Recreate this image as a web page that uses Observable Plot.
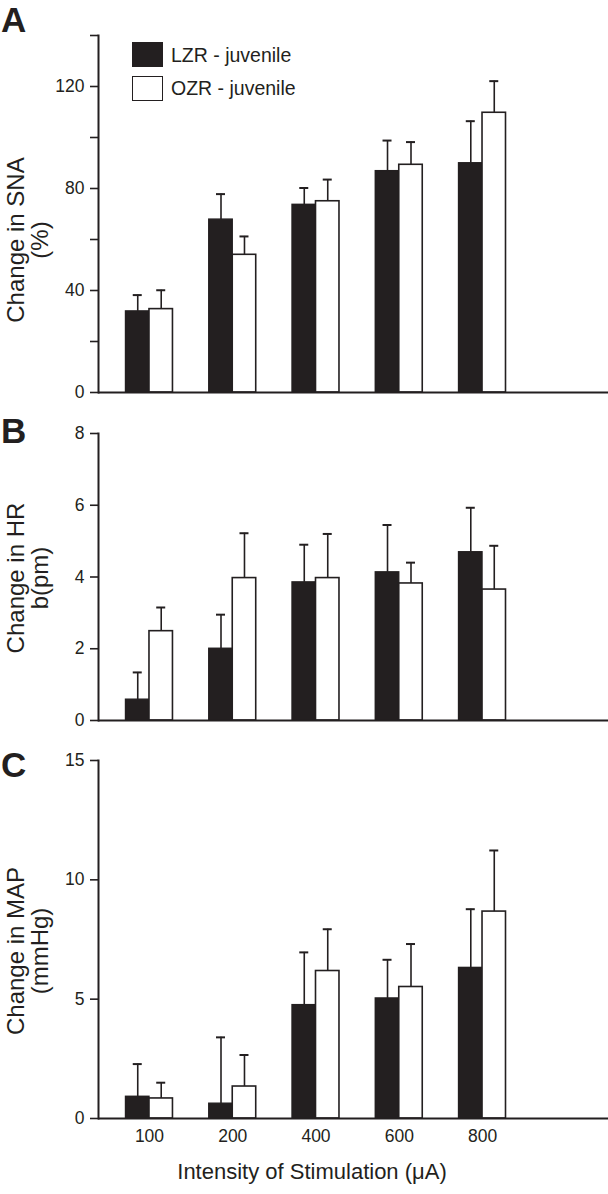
<!DOCTYPE html>
<html><head><meta charset="utf-8">
<script src="https://cdn.jsdelivr.net/npm/d3@7"></script>
<script src="https://cdn.jsdelivr.net/npm/@observablehq/plot@0.6"></script>
<style>
body{margin:0;background:#fff;}
#wrap{position:relative;width:608px;height:1194px;overflow:hidden;font-family:"Liberation Sans",Arial,Helvetica,sans-serif;color:#231f20;}
.panel{position:absolute;left:0;}
.letter{position:absolute;left:1px;font-weight:bold;font-size:35px;line-height:40px;}
.ytitle{position:absolute;font-size:24px;line-height:24px;text-align:center;white-space:nowrap;transform:translate(-50%,-50%) rotate(-90deg);}
.xtitle{position:absolute;font-size:22px;white-space:nowrap;transform:translate(-50%,-50%);}
.sw{position:absolute;width:31px;height:25px;box-sizing:border-box;border:1.6px solid #231f20;}
.lt{position:absolute;font-size:19.5px;white-space:nowrap;transform:translateY(-50%);}
</style></head><body><div id="wrap"></div>
<script>
// ---- data ----
const doses = ["100", "200", "400", "600", "800"];
const groups = ["LZR - juvenile", "OZR - juvenile"];

const snaLZR    = [31.8, 67.8, 73.6, 86.8, 89.9];
const snaLZRerr = [6.4, 10.0, 6.6, 12.0, 16.5];
const snaOZR    = [32.7, 54.0, 75.0, 89.3, 109.7];
const snaOZRerr = [7.4, 7.2, 8.5, 8.9, 12.4];

const hrLZR    = [0.58, 2.0, 3.85, 4.13, 4.69];
const hrLZRerr = [0.76, 0.95, 1.05, 1.32, 1.24];
const hrOZR    = [2.49, 3.97, 3.97, 3.82, 3.65];
const hrOZRerr = [0.66, 1.25, 1.23, 0.58, 1.22];

const mapLZR    = [0.91, 0.62, 4.75, 5.03, 6.31];
const mapLZRerr = [1.37, 2.78, 2.21, 1.62, 2.46];
const mapOZR    = [0.84, 1.34, 6.18, 5.51, 8.67];
const mapOZRerr = [0.66, 1.32, 1.75, 1.80, 2.56];

const snaTicks = [0, 20, 40, 60, 80, 100, 120, 140];
const snaTickLabels = [0, 40, 80, 120];
const hrTicks = [0, 2, 4, 6, 8];
const mapTicks = [0, 5, 10, 15];

const xTitle = "Intensity of Stimulation (\u03bcA)";

// ---- drawing ----
const ink = "#231f20";
const wrap = document.getElementById("wrap");
const rowsOf = (m, e) => doses.map((d, i) => ({dose: d, mean: m[i], err: e[i]}));

const xRange = [125.5, 505.5];
const padIn = 0.436;
const step = (xRange[1] - xRange[0]) / (doses.length - padIn);
const bw = step * (1 - padIn);
const half = bw / 2;
const capW = 9;

function panel(o) {
  const L = rowsOf(o.lzr, o.lzrE), O = rowsOf(o.ozr, o.ozrE);
  const marks = [
    Plot.barY(L, {x: "dose", y: "mean", fill: ink, stroke: ink, strokeWidth: 1.4, insetRight: half}),
    Plot.barY(O, {x: "dose", y: "mean", fill: "white", stroke: ink, strokeWidth: 1.6, insetLeft: half}),
    Plot.ruleX(L, {x: "dose", y1: "mean", y2: d => d.mean + d.err, dx: -half / 2, stroke: ink, strokeWidth: 1.6}),
    Plot.ruleX(O, {x: "dose", y1: "mean", y2: d => d.mean + d.err, dx: half / 2, stroke: ink, strokeWidth: 1.6}),
    Plot.tickY(L, {x: "dose", y: d => d.mean + d.err, dx: -half / 2, insetLeft: (bw - capW) / 2, insetRight: (bw - capW) / 2, stroke: ink, strokeWidth: 2}),
    Plot.tickY(O, {x: "dose", y: d => d.mean + d.err, dx: half / 2, insetLeft: (bw - capW) / 2, insetRight: (bw - capW) / 2, stroke: ink, strokeWidth: 2}),
    Plot.ruleY([0], {stroke: ink, strokeWidth: 2}),
    Plot.frame({anchor: "left", stroke: ink, strokeWidth: 2}),
    Plot.axisY({ticks: o.ticks, tickSize: 8, tickPadding: 6, strokeWidth: 1.6, stroke: ink, fill: ink,
      tickFormat: d => (o.labels.includes(d) ? String(d) : ""), label: null})
  ];
  if (o.showX) marks.push(Plot.axisX({tickSize: 0, tickPadding: 11, label: null, fill: ink}));
  const svg = Plot.plot({
    width: 608, height: o.height,
    marginLeft: 98, marginRight: 0, marginTop: o.marginTop, marginBottom: o.marginBottom,
    style: {fontFamily: '"Liberation Sans", Arial, Helvetica, sans-serif', fontSize: "17.5px", color: ink, background: "transparent", overflow: "visible"},
    x: {type: "band", domain: doses, range: xRange, paddingInner: padIn, paddingOuter: 0, round: false, axis: o.showX ? undefined : null},
    y: {domain: o.domain, axis: null},
    marks
  });
  svg.classList.add("panel");
  svg.style.top = o.top + "px";
  wrap.appendChild(svg);
}

panel({lzr: snaLZR, lzrE: snaLZRerr, ozr: snaOZR, ozrE: snaOZRerr, domain: [0, 140], ticks: snaTicks, labels: snaTickLabels,
  top: 0, height: 400, marginTop: 35, marginBottom: 8});
panel({lzr: hrLZR, lzrE: hrLZRerr, ozr: hrOZR, ozrE: hrOZRerr, domain: [0, 8], ticks: hrTicks, labels: hrTicks,
  top: 400, height: 340, marginTop: 33, marginBottom: 20});
panel({lzr: mapLZR, lzrE: mapLZRerr, ozr: mapOZR, ozrE: mapOZRerr, domain: [0, 15], ticks: mapTicks, labels: mapTicks,
  top: 740, height: 454, marginTop: 20, marginBottom: 76, showX: true});

function addDiv(cls, html, css) {
  const d = document.createElement("div");
  d.className = cls; d.innerHTML = html; Object.assign(d.style, css); wrap.appendChild(d); return d;
}
addDiv("letter", "A", {top: "0px"});
addDiv("letter", "B", {top: "411px"});
addDiv("letter", "C", {top: "745px"});

addDiv("ytitle", "Change in SNA<br>(%)", {left: "28px", top: "240px"});
addDiv("ytitle", "Change in HR<br>b(pm)", {left: "28px", top: "578px"});
addDiv("ytitle", "Change in MAP<br>(mmHg)", {left: "28px", top: "951px"});

addDiv("xtitle", xTitle, {left: "312px", top: "1172px"});

addDiv("sw", "", {left: "132px", top: "42px", background: ink});
addDiv("sw", "", {left: "132px", top: "76px", background: "#fff"});
addDiv("lt", groups[0], {left: "171px", top: "55px"});
addDiv("lt", groups[1], {left: "171px", top: "88px"});
</script></body></html>
